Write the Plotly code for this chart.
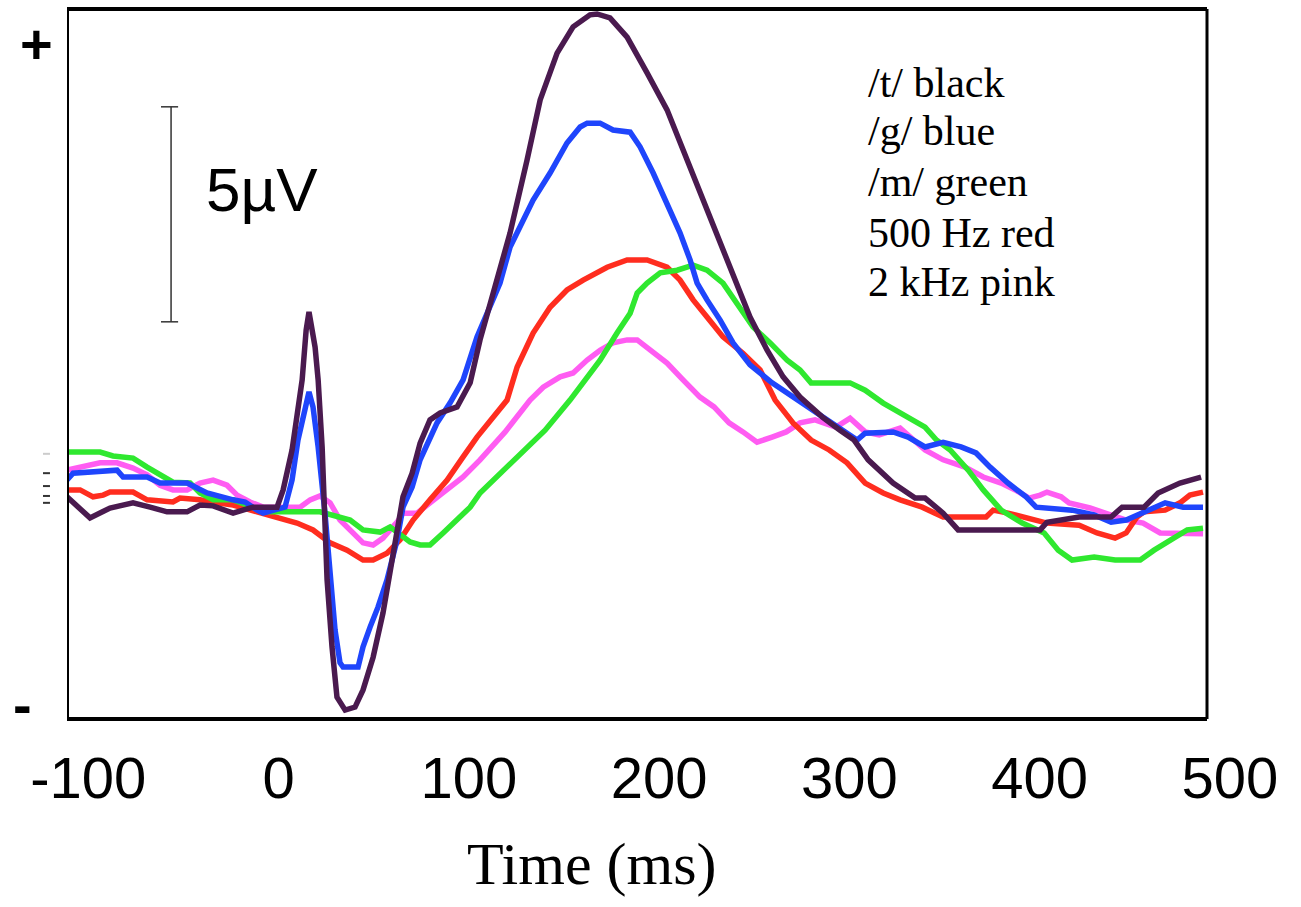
import plotly.graph_objects as go

# ---------------- data (time in ms, amplitude in microvolts) ----------------
BLACK_T = [-111.2, -99.1, -88.6, -76.5, -67.5, -58.6, -48.1, -41.3, -34.4, -23.9, -16.6, -13.4, -0.8, 2.4, 7.1,
           9.7, 12.4, 14.5, 16.0, 19.2, 20.8, 22.9, 23.9, 25.5, 28.1, 30.7, 35.0, 40.2, 44.4, 49.7, 54.9, 58.6,
           62.3, 65.4, 70.2, 74.4, 79.6, 84.9, 93.8, 100.7, 105.9, 116.4, 121.7, 130.6, 137.5, 146.4, 154.8,
           163.7, 167.4, 174.2, 183.2, 193.7, 204.2, 212.6, 221.5, 230.5, 238.9, 247.8, 256.8, 265.2, 274.1,
           285.7, 295.1, 302.5, 309.9, 323.0, 334.6, 339.8, 349.3, 357.2, 400.3, 403.9, 420.8, 437.6, 443.4,
           454.9, 462.3, 473.8, 484.9]
BLACK_UV = [0.26, -0.23, 0.0, 0.12, 0.02, -0.09, -0.09, 0.07, 0.05, -0.12, -0.02, 0.02, 0.02, 0.42, 1.35,
            2.21, 2.98, 4.14, 4.56, 3.74, 2.98, 1.42, -0.12, -1.67, -3.23, -4.40, -4.70, -4.63, -4.23, -3.47,
            -2.44, -1.51, -0.44, 0.26, 0.81, 1.51, 2.05, 2.21, 2.35, 2.91, 3.91, 5.60, 6.40, 8.09, 9.49, 10.58,
            11.19, 11.47, 11.49, 11.40, 10.95, 10.12, 9.26, 8.33, 7.33, 6.40, 5.37, 4.44, 3.67, 3.05, 2.58, 2.12,
            1.81, 1.58, 1.12, 0.58, 0.23, 0.23, -0.12, -0.51, -0.51, -0.33, -0.21, -0.21, 0.02, 0.02, 0.35,
            0.58, 0.72]

BLUE_T = [-111.2, -108.0, -84.9, -81.7, -69.1, -62.3, -48.1, -37.6, -23.9, -17.6, -11.3, -8.1, 3.4, 7.1,
          10.2, 13.9, 16.0, 18.1, 20.8, 24.4, 27.1, 29.7, 32.3, 33.9, 41.8, 44.4, 48.1, 52.3, 57.0, 62.3, 65.4,
          70.2, 74.4, 79.6, 83.3, 90.1, 97.0, 104.3, 116.4, 121.7, 133.8, 142.7, 151.6, 158.5, 162.2, 169.0,
          175.8, 184.8, 190.0, 196.9, 204.2, 211.0, 216.3, 220.0, 225.2, 232.1, 238.9, 247.8, 259.4, 270.4,
          282.0, 293.0, 304.1, 308.3, 323.0, 330.9, 339.8, 349.3, 358.7, 366.6, 374.0, 383.4, 392.9, 398.2,
          417.1, 428.7, 437.6, 445.5, 454.9, 466.0, 475.4, 485.9]
BLUE_UV = [0.65, 0.81, 0.88, 0.72, 0.72, 0.58, 0.58, 0.35, 0.19, 0.14, -0.05, -0.12, 0.02, 0.65, 1.58, 2.28,
           2.70, 2.35, 1.42, -0.12, -1.67, -2.84, -3.60, -3.70, -3.70, -3.23, -2.77, -2.30, -1.67, -0.74, 0.02,
           0.49, 1.12, 1.65, 1.98, 2.44, 2.98, 3.98, 5.23, 6.07, 7.16, 7.79, 8.49, 8.86, 8.95, 8.95, 8.79, 8.74,
           8.40, 7.79, 7.09, 6.40, 5.77, 5.23, 4.84, 4.37, 3.84, 3.33, 2.91, 2.58, 2.21, 1.88, 1.58, 1.74, 1.77,
           1.65, 1.42, 1.53, 1.42, 1.28, 0.95, 0.58, 0.26, 0.02, -0.05, -0.16, -0.33, -0.28, -0.09, 0.12, 0.02,
           0.02]

RED_T = [-111.2, -104.3, -97.5, -92.2, -88.6, -76.5, -69.1, -55.5, -51.8, -41.3, -32.3, -23.9, -11.3, -0.8,
         9.7, 18.1, 27.1, 36.0, 44.4, 49.7, 57.0, 63.9, 70.7, 79.6, 88.6, 97.0, 104.3, 120.1, 125.4, 133.8,
         142.7, 151.6, 160.1, 172.7, 183.2, 193.7, 204.2, 211.0, 217.9, 225.2, 233.6, 244.1, 253.1, 261.0,
         270.4, 279.9, 289.4, 298.8, 308.3, 317.8, 326.7, 338.3, 349.3, 371.9, 375.6, 383.4, 394.5, 403.9,
         420.8, 430.2, 439.7, 445.5, 451.2, 454.9, 466.0, 473.8, 479.0, 485.9]
RED_UV = [0.42, 0.42, 0.26, 0.30, 0.37, 0.37, 0.19, 0.14, 0.23, 0.19, 0.12, 0.07, -0.09, -0.23, -0.35, -0.51,
          -0.81, -0.98, -1.21, -1.21, -1.05, -0.74, -0.28, 0.19, 0.65, 1.19, 1.65, 2.51, 3.28, 4.07, 4.67, 5.07,
          5.30, 5.60, 5.77, 5.77, 5.60, 5.30, 4.84, 4.44, 3.98, 3.60, 3.21, 2.51, 1.98, 1.58, 1.35, 1.05, 0.58,
          0.35, 0.19, 0.02, -0.21, -0.21, -0.05, -0.12, -0.23, -0.35, -0.40, -0.58, -0.70, -0.58, -0.21, -0.09,
          -0.05, 0.12, 0.30, 0.37]

GREEN_T = [-111.2, -93.8, -87.0, -76.5, -69.1, -62.3, -55.5, -46.5, -41.3, -34.4, -23.9, -16.6, -8.1, 21.8,
           32.3, 37.6, 44.4, 53.4, 58.6, 62.3, 69.1, 74.4, 79.6, 86.5, 93.8, 100.7, 105.9, 127.0, 140.1, 153.2,
           160.1, 169.0, 177.9, 184.8, 188.5, 193.7, 200.6, 209.5, 217.9, 225.2, 233.6, 242.6, 249.4, 258.4,
           267.3, 274.1, 279.9, 300.4, 308.3, 317.8, 330.9, 339.8, 345.8, 353.0, 362.5, 370.4, 379.8, 390.9,
           402.4, 409.8, 417.1, 428.7, 439.7, 452.9, 460.2, 469.7, 477.6, 485.9]
GREEN_UV = [1.30, 1.30, 1.21, 1.16, 0.95, 0.77, 0.60, 0.58, 0.35, 0.19, 0.19, 0.07, -0.09, -0.09, -0.23,
            -0.28, -0.51, -0.56, -0.44, -0.56, -0.79, -0.86, -0.86, -0.58, -0.28, 0.02, 0.35, 1.23, 1.81, 2.51,
            2.91, 3.44, 4.07, 4.53, 5.00, 5.23, 5.47, 5.53, 5.65, 5.53, 5.23, 4.67, 4.21, 3.84, 3.44, 3.21, 2.91,
            2.91, 2.74, 2.44, 2.12, 1.88, 1.58, 1.35, 0.88, 0.42, -0.05, -0.35, -0.58, -0.98, -1.21, -1.14,
            -1.21, -1.21, -0.98, -0.74, -0.51, -0.47]

PINK_T = [-111.2, -100.7, -93.8, -84.9, -76.5, -69.1, -62.3, -55.5, -48.1, -41.3, -34.4, -27.1, -21.8, -15.0,
          -8.1, 11.3, 16.6, 21.8, 27.1, 32.3, 37.6, 44.4, 49.7, 54.9, 58.6, 62.3, 65.4, 72.8, 79.6, 88.6, 97.0,
          105.9, 119.1, 132.2, 139.1, 148.0, 154.8, 162.2, 169.0, 175.8, 183.2, 188.5, 196.9, 204.2, 212.6,
          221.5, 228.9, 236.8, 244.1, 251.5, 259.4, 266.8, 274.1, 282.0, 293.0, 300.4, 308.3, 315.7, 326.7,
          332.5, 339.8, 349.3, 360.8, 370.4, 379.8, 387.2, 394.5, 400.3, 403.9, 411.3, 415.5, 426.5, 433.9,
          445.5, 454.4, 463.4, 485.9]
PINK_UV = [0.88, 1.00, 1.05, 1.05, 0.93, 0.77, 0.53, 0.42, 0.42, 0.58, 0.65, 0.53, 0.30, 0.14, 0.02, 0.02,
           0.19, 0.28, 0.12, -0.28, -0.51, -0.81, -0.86, -0.70, -0.51, -0.33, -0.12, -0.12, 0.12, 0.42, 0.72,
           1.12, 1.77, 2.51, 2.81, 3.05, 3.14, 3.44, 3.67, 3.84, 3.91, 3.91, 3.60, 3.37, 2.98, 2.58, 2.35, 1.98,
           1.77, 1.53, 1.65, 1.77, 1.98, 2.05, 1.88, 2.09, 1.77, 1.70, 1.86, 1.65, 1.35, 1.12, 0.95, 0.72, 0.58,
           0.42, 0.23, 0.30, 0.37, 0.26, 0.12, 0.00, -0.12, -0.28, -0.35, -0.58, -0.60]

TICK_MS = [-100, 0, 100, 200, 300, 400, 500]
TICK_TEXT = ["-100", "0", "100", "200", "300", "400", "500"]
LEGEND_LINES = ["/t/ black", "/g/ blue", "/m/ green", "500 Hz red", "2 kHz pink"]
SCALE_BAR_UV = [4.33, 9.33]          # 5 microvolt calibration bar
LEFT_MARKS_UV = [1.26, 0.81, 0.51, 0.28, 0.12]

# ---------------- layout constants ----------------
X_RANGE = [-111.2, 510.6]
Y_RANGE = [-4.907, 11.605]
FRAME_RIGHT_MS = 488.0

series = [
    ("2 kHz pink", PINK_T, PINK_UV, "#ff5cf2"),
    ("500 Hz red", RED_T, RED_UV, "#ff2d1f"),
    ("/m/ green", GREEN_T, GREEN_UV, "#2fe82f"),
    ("/g/ blue", BLUE_T, BLUE_UV, "#1f45fc"),
    ("/t/ black", BLACK_T, BLACK_UV, "#4a1a4f"),
]

fig = go.Figure()
for name, t, v, c in series:
    fig.add_trace(go.Scatter(x=t, y=v, mode="lines", name=name,
                             line=dict(color=c, width=5.5), showlegend=False,
                             hoverinfo="x+y+name"))

shapes = []
# frame
shapes.append(dict(type="line", xref="x", yref="paper", x0=X_RANGE[0], x1=X_RANGE[0], y0=0, y1=1,
                   line=dict(color="black", width=4)))
shapes.append(dict(type="line", xref="x", yref="paper", x0=FRAME_RIGHT_MS, x1=FRAME_RIGHT_MS, y0=0, y1=1,
                   line=dict(color="black", width=3)))
shapes.append(dict(type="line", xref="x", yref="paper", x0=X_RANGE[0], x1=FRAME_RIGHT_MS, y0=0, y1=0,
                   line=dict(color="black", width=4)))
shapes.append(dict(type="line", xref="x", yref="paper", x0=X_RANGE[0], x1=FRAME_RIGHT_MS, y0=1, y1=1,
                   line=dict(color="black", width=4)))
# scale bar
bar_x = -56.5
shapes.append(dict(type="line", xref="x", yref="y", x0=bar_x, x1=bar_x, y0=SCALE_BAR_UV[0], y1=SCALE_BAR_UV[1],
                   line=dict(color="#333333", width=1.5)))
for yv in SCALE_BAR_UV:
    shapes.append(dict(type="line", xref="x", yref="y", x0=-61.8, x1=-52.8, y0=yv, y1=yv,
                       line=dict(color="#333333", width=1.5)))
# small marks left of the frame
for i, yv in enumerate(LEFT_MARKS_UV):
    shapes.append(dict(type="line", xref="paper", yref="y", x0=-0.0203, x1=-0.0144, y0=yv, y1=yv,
                       line=dict(color="#cccccc" if i == 0 else "#333333", width=2)))

annotations = []
annotations.append(dict(x=-8.7, y=7.4, xref="x", yref="y", text="5µV", showarrow=False,
                        font=dict(family="Liberation Sans, Arial", size=62, color="black"),
                        xanchor="center", yanchor="middle"))
annotations.append(dict(x=-0.0254, y=0.952, xref="paper", yref="paper", text="<b>+</b>", showarrow=False,
                        font=dict(family="Liberation Sans, Arial", size=56, color="black"),
                        xanchor="center", yanchor="middle"))
annotations.append(dict(x=-0.0372, y=0.02, xref="paper", yref="paper", text="<b>-</b>", showarrow=False,
                        font=dict(family="Liberation Sans, Arial", size=56, color="black"),
                        xanchor="center", yanchor="middle"))
legend_y_px = [83, 131, 182, 233, 282]
for line, ypx in zip(LEGEND_LINES, legend_y_px):
    annotations.append(dict(x=(866 - 67) / 1183, y=1 - (ypx - 9) / 710, xref="paper", yref="paper",
                            text=line, showarrow=False, xanchor="left", yanchor="middle",
                            font=dict(family="Liberation Serif, Times New Roman", size=42, color="black")))
annotations.append(dict(x=(592 - 67) / 1183, y=-(864 - 719) / 710, xref="paper", yref="paper",
                        text="Time (ms)", showarrow=False, xanchor="center", yanchor="middle",
                        font=dict(family="Liberation Serif, Times New Roman", size=60, color="black")))

fig.update_layout(
    width=1301, height=907,
    margin=dict(l=67, r=51, t=9, b=188),
    paper_bgcolor="white", plot_bgcolor="white",
    xaxis=dict(range=X_RANGE, tickvals=TICK_MS, ticktext=TICK_TEXT, showgrid=False, zeroline=False,
               showline=False, ticks="outside", ticklen=8, tickcolor="rgba(0,0,0,0)",
               tickfont=dict(family="Liberation Sans, Arial", size=58, color="black")),
    yaxis=dict(range=Y_RANGE, showgrid=False, zeroline=False, showline=False, showticklabels=False,
               ticks=""),
    shapes=shapes, annotations=annotations,
)

fig.write_html("out.html")
